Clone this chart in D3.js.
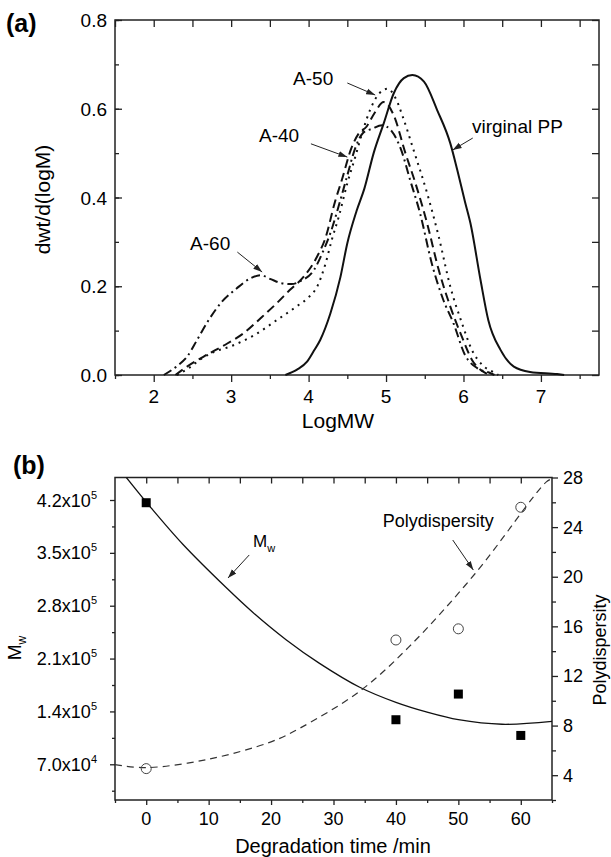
<!DOCTYPE html>
<html>
<head>
<meta charset="utf-8">
<script src="https://cdn.jsdelivr.net/npm/d3@7"></script>
<style>
  body { margin: 0; background: #fff; }
  svg { font-family: "Liberation Sans", Arial, sans-serif; }
</style>
</head>
<body>
<svg id="chart" width="611" height="857"></svg>
<script>
// ---- panel (a): molecular weight distributions [logMW, dwt/d(logM)] ----
const virginPP = [[3.70,0],[3.85,0.012],[3.98,0.03],[4.07,0.055],[4.15,0.079],[4.28,0.138],[4.41,0.22],
  [4.50,0.297],[4.62,0.37],[4.72,0.42],[4.84,0.5],[4.97,0.567],[5.10,0.635],[5.23,0.669],[5.34,0.676],
  [5.49,0.661],[5.66,0.597],[5.83,0.522],[5.92,0.462],[6.02,0.39],[6.09,0.342],[6.22,0.214],[6.32,0.124],
  [6.48,0.056],[6.65,0.019],[6.86,0.007],[7.21,0.002],[7.3,0]];
const a40 = [[2.28,0],[2.43,0.019],[2.64,0.041],[2.95,0.071],[3.16,0.094],[3.38,0.128],[3.59,0.162],
  [3.76,0.192],[3.94,0.222],[4.11,0.267],[4.22,0.31],[4.34,0.39],[4.43,0.44],[4.55,0.51],[4.65,0.545],
  [4.75,0.56],[4.85,0.59],[4.97,0.615],[5.1,0.585],[5.25,0.5],[5.38,0.432],[5.53,0.342],[5.68,0.237],
  [5.83,0.154],[5.98,0.086],[6.11,0.034],[6.26,0.007],[6.35,0]];
const a50 = [[2.3,0],[2.45,0.015],[2.6,0.035],[2.75,0.05],[3.0,0.065],[3.3,0.09],[3.6,0.125],[3.85,0.155],
  [4.0,0.175],[4.11,0.199],[4.22,0.252],[4.30,0.305],[4.39,0.357],[4.5,0.432],[4.6,0.49],[4.7,0.55],
  [4.8,0.6],[4.9,0.632],[5.02,0.645],[5.12,0.625],[5.22,0.58],[5.35,0.51],[5.53,0.41],[5.68,0.312],
  [5.83,0.199],[5.98,0.117],[6.11,0.056],[6.24,0.023],[6.39,0.006],[6.45,0]];
const a60 = [[2.13,0],[2.3,0.02],[2.43,0.041],[2.56,0.079],[2.71,0.124],[2.88,0.165],[3.07,0.195],
  [3.25,0.218],[3.38,0.225],[3.51,0.216],[3.65,0.207],[3.78,0.205],[3.9,0.212],[4.07,0.237],[4.19,0.28],
  [4.28,0.319],[4.41,0.394],[4.5,0.45],[4.6,0.51],[4.7,0.545],[4.82,0.555],[4.95,0.563],[5.07,0.55],
  [5.2,0.505],[5.31,0.44],[5.44,0.364],[5.59,0.252],[5.74,0.169],[5.87,0.117],[6.02,0.045],[6.18,0.015],
  [6.35,0.004],[6.4,0]];
const aTicksX = [2, 3, 4, 5, 6, 7];
const aTicksY = [0, 0.2, 0.4, 0.6, 0.8];
// labels: text anchor and arrow (from -> to), in data units
const aNotes = [
  { text: "A-50", at: [3.80, 0.653], from: [4.50, 0.658], to: [4.86, 0.631] },
  { text: "A-40", at: [3.36, 0.525], from: [4.03, 0.521], to: [4.50, 0.491] },
  { text: "virginal PP", at: [6.11, 0.545], from: [6.12, 0.534], to: [5.86, 0.507] },
  { text: "A-60", at: [2.47, 0.282], from: [3.08, 0.277], to: [3.40, 0.232] }
];

// ---- panel (b): Mw and polydispersity vs degradation time ----
const degTime = [0, 40, 50, 60];
const mwValues = [416400, 129000, 163000, 108200];
const pdValues = [4.53, 14.9, 15.8, 25.6];
const mwFit = [[-3.4,452000],[0.6,411300],[5.9,361000],[12.8,304000],[17.1,271000],[22.4,235000],
  [27.7,204000],[34.2,172000],[40,152000],[45,139000],[50,129000],[57,123000],[65,126800]];
const pdFit = [[-5,4.85],[0,4.61],[10,5.29],[20,6.69],[24.5,7.76],[34.2,10.77],[42,14.3],
  [52.7,20.26],[64.1,27.65],[65,27.9]];
const bTicksX = [0, 10, 20, 30, 40, 50, 60];
const mwTicks = [70000, 140000, 210000, 280000, 350000, 420000];
const pdTicks = [4, 8, 12, 16, 20, 24, 28];

const svg = d3.select("#chart");
const ink = "#222";

// Arrow marker.
svg.append("defs").append("marker")
  .attr("id", "arrow")
  .attr("viewBox", "0 -4 9 8")
  .attr("refX", 9).attr("refY", 0)
  .attr("markerUnits", "userSpaceOnUse")
  .attr("markerWidth", 9).attr("markerHeight", 8)
  .attr("orient", "auto")
  .append("path").attr("d", "M0,-3L9,0L0,3Z").attr("fill", ink);

function tickAxis(g, axisFn, scale, values, size, transform) {
  g.append("g")
    .attr("transform", transform)
    .attr("color", ink)
    .call(axisFn(scale).tickValues(values).tickSize(size).tickFormat(""))
    .call(s => s.select(".domain").remove())
    .selectAll("line").attr("stroke-width", 1.3);
}

// ================= Panel (a) =================
const xa = d3.scaleLinear().domain([1.5, 7.75]).range([115, 599]);
const ya = d3.scaleLinear().domain([0, 0.8]).range([375, 20]);
const ga = svg.append("g");

const aMinorX = d3.range(1.5, 7.76, 0.5);
const aMinorY = d3.range(0, 0.81, 0.1);
tickAxis(ga, d3.axisBottom, xa, aMinorX.filter(v => v % 1 !== 0), 4, `translate(0,${ya(0)})`);
tickAxis(ga, d3.axisBottom, xa, aTicksX, 7, `translate(0,${ya(0)})`);
tickAxis(ga, d3.axisLeft, ya, aMinorY, -4, `translate(${xa(1.5)},0)`);
tickAxis(ga, d3.axisLeft, ya, aTicksY, -7, `translate(${xa(1.5)},0)`);
tickAxis(ga, d3.axisTop, xa, aMinorX, -7, `translate(0,${ya(0.8)})`);
tickAxis(ga, d3.axisRight, ya, aMinorY, -7, `translate(${xa(7.75)},0)`);

ga.append("rect")
  .attr("x", xa(1.5)).attr("y", ya(0.8))
  .attr("width", xa(7.75) - xa(1.5)).attr("height", ya(0) - ya(0.8))
  .attr("fill", "none").attr("stroke", ink).attr("stroke-width", 1.5);

const lineA = d3.line().x(d => xa(d[0])).y(d => ya(d[1])).curve(d3.curveMonotoneX);
const aSeries = [
  { data: virginPP, dash: null },
  { data: a40, dash: "9,5" },
  { data: a50, dash: "2,5" },
  { data: a60, dash: "9,4,2,4" }
];
ga.selectAll("path.curve")
  .data(aSeries)
  .join("path")
  .attr("class", "curve")
  .attr("d", d => lineA(d.data))
  .attr("fill", "none")
  .attr("stroke", "#111")
  .attr("stroke-width", 2)
  .attr("stroke-dasharray", d => d.dash);

ga.selectAll("text.xt")
  .data(aTicksX)
  .join("text")
  .attr("class", "xt")
  .attr("x", d => xa(d)).attr("y", 403)
  .attr("text-anchor", "middle")
  .attr("font-size", 19)
  .text(d => d);
ga.selectAll("text.yt")
  .data(aTicksY)
  .join("text")
  .attr("class", "yt")
  .attr("x", 107).attr("y", d => ya(d) + 7)
  .attr("text-anchor", "end")
  .attr("font-size", 19)
  .text(d => d.toFixed(1));

ga.append("text").attr("x", 338).attr("y", 428).attr("text-anchor", "middle")
  .attr("font-size", 21).text("LogMW");
ga.append("text").attr("transform", `translate(50,${(ya(0) + ya(0.8)) / 2 + 2}) rotate(-90)`)
  .attr("text-anchor", "middle").attr("font-size", 21).text("dwt/d(logM)");
ga.append("text").attr("x", 6).attr("y", 32).attr("font-size", 25)
  .attr("font-weight", "bold").text("(a)");

aNotes.forEach(n => {
  ga.append("text").attr("x", xa(n.at[0])).attr("y", ya(n.at[1]))
    .attr("font-size", 19).text(n.text);
  ga.append("line")
    .attr("x1", xa(n.from[0])).attr("y1", ya(n.from[1]))
    .attr("x2", xa(n.to[0])).attr("y2", ya(n.to[1]))
    .attr("stroke", ink).attr("stroke-width", 1)
    .attr("marker-end", "url(#arrow)");
});

// ================= Panel (b) =================
const xb = d3.scaleLinear().domain([-5, 65]).range([115, 552]);
const ybL = d3.scaleLinear().domain([22700, 449800]).range([800, 477.5]);
const ybR = d3.scaleLinear().domain([2, 28]).range([800, 477.5]);
const gb = svg.append("g");

tickAxis(gb, d3.axisBottom, xb, d3.range(-5, 66, 10), 3, `translate(0,800)`);
tickAxis(gb, d3.axisBottom, xb, bTicksX, 5, `translate(0,800)`);
tickAxis(gb, d3.axisTop, xb, d3.range(0, 61, 5), -6, `translate(0,477.5)`);
tickAxis(gb, d3.axisLeft, ybL, d3.range(35000, 449800, 70000), 3, `translate(115,0)`);
tickAxis(gb, d3.axisLeft, ybL, mwTicks, 5, `translate(115,0)`);
tickAxis(gb, d3.axisRight, ybR, d3.range(2, 28, 4), 4, `translate(552,0)`);
tickAxis(gb, d3.axisRight, ybR, pdTicks, 6, `translate(552,0)`);

gb.append("rect")
  .attr("x", 115).attr("y", 477.5)
  .attr("width", 552 - 115).attr("height", 800 - 477.5)
  .attr("fill", "none").attr("stroke", ink).attr("stroke-width", 1.5);

svg.append("clipPath").attr("id", "clipb")
  .append("rect").attr("x", 115).attr("y", 477.5).attr("width", 437).attr("height", 322.5);

gb.append("path")
  .attr("d", d3.line().x(d => xb(d[0])).y(d => ybL(d[1])).curve(d3.curveCatmullRom)(mwFit))
  .attr("clip-path", "url(#clipb)")
  .attr("fill", "none").attr("stroke", "#111").attr("stroke-width", 1.3);
gb.append("path")
  .attr("d", d3.line().x(d => xb(d[0])).y(d => ybR(d[1])).curve(d3.curveCatmullRom)(pdFit))
  .attr("clip-path", "url(#clipb)")
  .attr("fill", "none").attr("stroke", "#333").attr("stroke-width", 1.2)
  .attr("stroke-dasharray", "7,5");

gb.selectAll("rect.mw")
  .data(degTime)
  .join("rect")
  .attr("class", "mw")
  .attr("x", (d, i) => xb(d) - 4.5).attr("y", (d, i) => ybL(mwValues[i]) - 4.5)
  .attr("width", 9).attr("height", 9)
  .attr("fill", "#000");
gb.selectAll("circle.pd")
  .data(degTime)
  .join("circle")
  .attr("class", "pd")
  .attr("cx", d => xb(d)).attr("cy", (d, i) => ybR(pdValues[i]))
  .attr("r", 5)
  .attr("fill", "none").attr("stroke", "#444").attr("stroke-width", 1);

gb.selectAll("text.xt")
  .data(bTicksX)
  .join("text")
  .attr("class", "xt")
  .attr("x", d => xb(d)).attr("y", 825)
  .attr("text-anchor", "middle").attr("font-size", 18)
  .text(d => d);

const yl = gb.selectAll("text.yl")
  .data(mwTicks)
  .join("text")
  .attr("class", "yl")
  .attr("x", 97).attr("y", d => ybL(d) + 6.5)
  .attr("text-anchor", "end").attr("font-size", 18);
yl.append("tspan").text(d => {
  const e = Math.floor(Math.log10(d));
  return (d / Math.pow(10, e)).toFixed(1) + "x10";
});
yl.append("tspan").attr("font-size", 11).attr("dy", -8)
  .text(d => Math.floor(Math.log10(d)));

gb.selectAll("text.yr")
  .data(pdTicks)
  .join("text")
  .attr("class", "yr")
  .attr("x", 563).attr("y", d => ybR(d) + 6.5)
  .attr("font-size", 18)
  .text(d => d);

gb.append("text").attr("x", 333).attr("y", 853).attr("text-anchor", "middle")
  .attr("font-size", 20).text("Degradation time /min");
const mwTitle = gb.append("text")
  .attr("transform", `translate(21,648) rotate(-90)`)
  .attr("text-anchor", "middle").attr("font-size", 19);
mwTitle.append("tspan").text("M");
mwTitle.append("tspan").attr("font-size", 12).attr("dy", 5).text("w");
gb.append("text").attr("transform", `translate(606,650) rotate(-90)`)
  .attr("text-anchor", "middle").attr("font-size", 18).text("Polydispersity");
gb.append("text").attr("x", 13).attr("y", 474).attr("font-size", 25)
  .attr("font-weight", "bold").text("(b)");

// label for Mw fit
const mwNote = gb.append("text").attr("x", xb(17.1)).attr("y", ybL(357800)).attr("font-size", 17);
mwNote.append("tspan").text("M");
mwNote.append("tspan").attr("font-size", 11).attr("dy", 5).text("w");
gb.append("line")
  .attr("x1", xb(16.5)).attr("y1", ybL(347200))
  .attr("x2", xb(13.1)).attr("y2", ybL(316700))
  .attr("stroke", ink).attr("stroke-width", 1).attr("marker-end", "url(#arrow)");
gb.append("text").attr("x", xb(37.9)).attr("y", ybR(24.0)).attr("font-size", 18).text("Polydispersity");
gb.append("line")
  .attr("x1", xb(49.1)).attr("y1", ybR(22.96))
  .attr("x2", xb(52.4)).attr("y2", ybR(20.54))
  .attr("stroke", ink).attr("stroke-width", 1).attr("marker-end", "url(#arrow)");
</script>
</body>
</html>
